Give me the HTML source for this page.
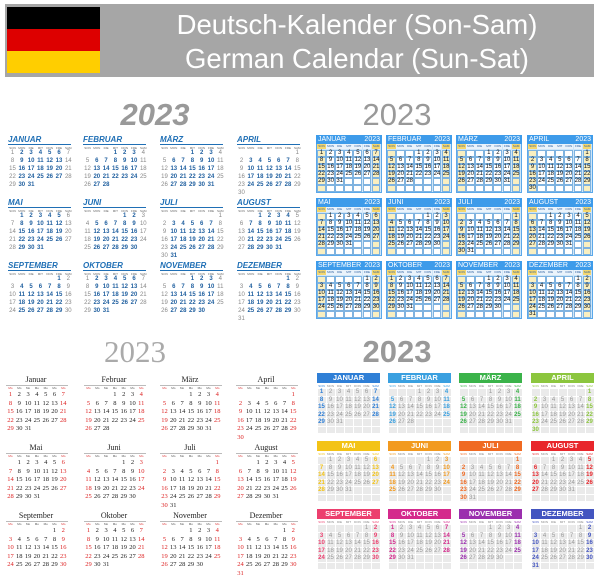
<!DOCTYPE html><html><head><meta charset="utf-8"><style>
body{margin:0;width:600px;height:579px;background:#fff;position:relative;overflow:hidden;font-family:"Liberation Sans",sans-serif}
div,span{position:absolute;box-sizing:border-box}
.t{white-space:nowrap}
</style></head><body>
<div style="left:5px;top:4px;width:589px;height:73px;background:#a6a6a6"></div>
<div style="left:7px;top:7px;width:93px;height:22px;background:#000"></div>
<div style="left:7px;top:29px;width:93px;height:22px;background:#dd0000"></div>
<div style="left:7px;top:51px;width:93px;height:22px;background:#ffce00"></div>
<div class="t" style="left:157px;width:400px;top:9px;text-align:center;color:#fff;font-size:27.5px;line-height:32px">Deutsch-Kalender (Son-Sam)</div>
<div class="t" style="left:157px;width:400px;top:43px;text-align:center;color:#fff;font-size:27.5px;line-height:32px">German Calendar (Sun-Sat)</div>
<div class="t" style="left:80px;width:150px;top:97px;text-align:center;color:#999;font-size:31px;font-weight:bold;font-style:italic">2023</div>
<div class="t" style="left:322px;width:150px;top:97px;text-align:center;color:#999;font-size:31px">2023</div>
<div class="t" style="left:60px;width:150px;top:334px;text-align:center;color:#aaa;font-size:31px;font-family:'Liberation Serif',serif">2023</div>
<div class="t" style="left:322px;width:150px;top:334px;text-align:center;color:#999;font-size:31px;font-weight:bold">2023</div>
<div id="root"></div>
<script>
const M=["JANUAR","FEBRUAR","MÄRZ","APRIL","MAI","JUNI","JULI","AUGUST","SEPTEMBER","OKTOBER","NOVEMBER","DEZEMBER"];
const MT=["Januar","Februar","März","April","Mai","Juni","Juli","August","September","Oktober","November","Dezember"];
const D=["SON","MON","DIE","MIT","DON","FRE","SAM"];
let h="";
function box(x,y,w,hh,st){h+=`<div style="left:${x}px;top:${y}px;width:${w}px;height:${hh}px;${st}"></div>`}
function txt(x,y,w,s,st){h+=`<div class="t" style="left:${x}px;top:${y}px;width:${w}px;${st}">${s}</div>`}
function days(m){let f=new Date(2023,m,1).getDay(),n=new Date(2023,m+1,0).getDate(),r=[];for(let d=1;d<=n;d++){let i=f+d-1;r.push([d,i%7,Math.floor(i/7)])}return r}
const cx1=[8,83,160,237],cy1=[136,199,262];
const cx2=[316,386,456,527],cy2=[135,198,261];
const cx3=[6,84,160,236],cy3=[375,443,511];
const cx4=[317,388,459,531],cy4=[373,441,509];
const cols=["#2f7fd6","#3aa0e0","#3bb34a","#8cc63e","#f3c316","#f29a1f","#f06a22","#e8262c","#ec3f6e","#d42a8c","#9b2fae","#4355c0"];
for(let m=0;m<12;m++){
 let c=m%4,r=Math.floor(m/4),dd=days(m);
 let x=cx1[c],y=cy1[r];
 txt(x,y-1,60,M[m],"font-size:8px;font-weight:bold;font-style:italic;color:#1f6fb5");
 box(x,y+8,63,1,"background:#1f6fb5");
 for(let i=0;i<7;i++)txt(x+i*9.3,y+10,9,D[i],"font-size:3px;color:#666;text-align:center");
 for(const [d,w,k] of dd)txt(x+w*9.3,y+14+k*8,9,d,`font-size:6px;text-align:center;font-weight:${w==0||w==6?'normal':'bold'};color:${w==0||w==6?'#888':'#1f5f9f'}`);
 x=cx2[c];y=cy2[r];
 box(x,y,66,58,"background:#cfe6f8;border:1px solid #5aa8ea");
 box(x,y,66,9,"background:#3d9bea");
 txt(x+2,y,40,M[m],"font-size:7px;color:#fff;line-height:9px");
 txt(x+40,y,24,"2023","font-size:7px;color:#fff;line-height:9px;text-align:right");
 for(let i=0;i<7;i++){box(x+1+i*9.1,y+9,8.6,5,`background:${i==0||i==6?'#f5d76e':'#eaf3fb'}`);txt(x+1+i*9.1,y+9,9,D[i],"font-size:3px;color:#2a5ea0;text-align:center;line-height:5px")}
 for(let k=0;k<6;k++)for(let i=0;i<7;i++)box(x+1+i*9.1,y+15+k*7,8.6,6.5,`background:${i==0||i==6?'#f9efc0':'#fff'};border:0.5px solid #7fb3e0`);
 for(const [d,w,k] of dd)txt(x+1+w*9.1,y+15+k*7,9,d,"font-size:6px;text-align:center;color:#111;line-height:7px");
 x=cx3[c];y=cy3[r];
 txt(x,y,60,MT[m],"font-size:8px;text-align:center;font-family:'Liberation Serif',serif;color:#222");
 box(x,y+10,62,1,"background:#bbb");
 for(let i=0;i<7;i++)txt(x+i*8.8,y+11,9,"Mo","font-size:3px;color:"+(i==0||i==6?"#d33":"#555")+";text-align:center");
 for(const [d,w,k] of dd)txt(x+w*8.8,y+16+k*8.5,9,d,`font-size:6.5px;text-align:center;font-family:'Liberation Serif',serif;color:${w==0||w==6?'#d22':'#222'}`);
 x=cx4[c];y=cy4[r];
 box(x,y,63,10,"background:"+cols[m]);
 txt(x,y,63,M[m],"font-size:7.5px;font-weight:bold;color:#fff;text-align:center;line-height:10px");
 for(let i=0;i<7;i++)txt(x+i*9,y+11,9,D[i],"font-size:3px;color:"+(i==0||i==6?cols[m]:'#888')+";text-align:center");
 for(let k=0;k<6;k++)for(let i=0;i<7;i++)box(x+i*9+0.5,y+16+k*7.5,8,6.8,"background:#eaeaea");
 for(const [d,w,k] of dd)txt(x+w*9,y+16+k*7.5,9,d,`font-size:6px;text-align:center;line-height:7px;font-weight:${w==0||w==6?'bold':'normal'};color:${w==0||w==6?cols[m]:'#999'}`);
}
document.getElementById("root").outerHTML=h;
</script>
</body></html>
